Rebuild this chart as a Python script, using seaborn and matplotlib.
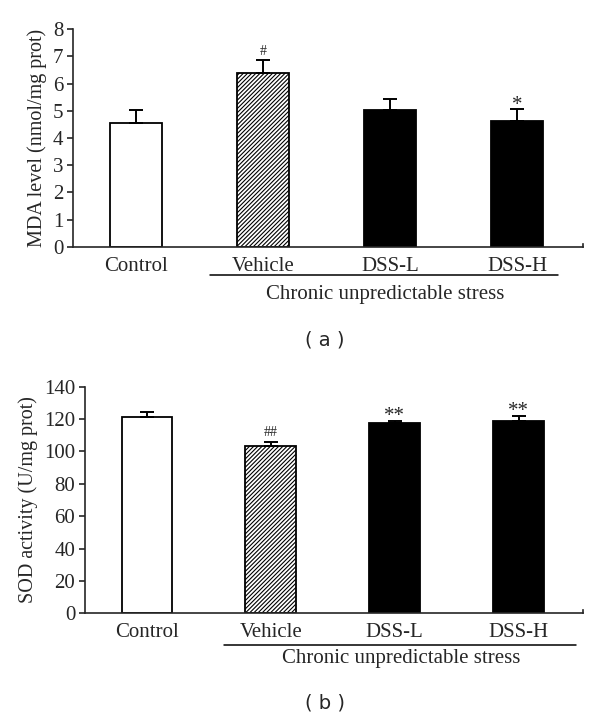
import numpy as np
import pandas as pd
import matplotlib
matplotlib.use('Agg')
import matplotlib.pyplot as plt
import matplotlib.transforms as mtransforms
import seaborn as sns

# Données
groups = ['Control', 'Vehicle', 'DSS-L', 'DSS-H']
mda_mean = [4.57, 6.38, 5.04, 4.61]
mda_err = [0.46, 0.47, 0.38, 0.45]
mda_marks = ['', '#', '', '*']
sod_mean = [121.4, 103.3, 117.3, 118.6]
sod_err = [3.1, 2.8, 1.7, 3.4]
sod_marks = ['', '##', '**', '**']
bar_colors = ['white', 'white', 'black', 'black']

sns.set_theme(style="ticks")
plt.rcParams['font.family'] = ['Liberation Serif', 'DejaVu Serif']
plt.rcParams['hatch.linewidth'] = 0.8

fig = plt.figure(figsize=(6, 7.2), dpi=100)
ax1 = fig.add_axes([0.1217, 0.657, 0.85, 0.3026])
ax2 = fig.add_axes([0.1417, 0.148, 0.83, 0.315])


def draw_panel(ax, means, errs, marks, ylabel, ylim, yticks, line_x, line_y, text_x, text_y):
    df = pd.DataFrame({'Group': groups, 'Value': means})
    sns.barplot(data=df, x='Group', y='Value', hue='Group', palette=bar_colors,
                edgecolor='black', linewidth=1.3, width=0.41, legend=False, ax=ax)
    ax.patches[1].set_hatch('////////')
    ax.errorbar(range(len(groups)), means, yerr=[np.zeros(len(errs)), errs],
                fmt='none', ecolor='black', elinewidth=1.4, capsize=5, capthick=1.4)
    for i, m in enumerate(marks):
        if m.startswith('*'):
            ax.annotate(m, (i, means[i] + errs[i]), xytext=(0, -4),
                        textcoords='offset points', ha='center', va='bottom', fontsize=15)
        elif m:
            ax.annotate(m, (i, means[i] + errs[i]), xytext=(0, 2),
                        textcoords='offset points', ha='center', va='bottom', fontsize=10)
    ax.set_ylim(*ylim)
    ax.set_yticks(yticks)
    ax.set_xlim(-0.5, 3.52)
    ax.set_xlabel('')
    ax.set_ylabel(ylabel, fontsize=14.5)
    ax.tick_params(axis='y', labelsize=15, length=4, width=1.2, direction='out', pad=3)
    ax.tick_params(axis='x', labelsize=15, length=0, pad=7)
    sns.despine(ax=ax, top=True, right=False)
    ax.spines['right'].set_bounds(ylim[0], ylim[0] + (ylim[1] - ylim[0]) * 0.015)
    for s in ['left', 'bottom', 'right']:
        ax.spines[s].set_linewidth(1.2)
    trans = mtransforms.blended_transform_factory(ax.transData, ax.transAxes)
    ax.plot(line_x, [line_y, line_y], color='black', lw=1.1, transform=trans, clip_on=False)
    ax.text(text_x, text_y, 'Chronic unpredictable stress', transform=trans,
            ha='center', va='center', fontsize=15)


draw_panel(ax1, mda_mean, mda_err, mda_marks, 'MDA level (nmol/mg prot)',
           (0, 8), range(0, 9), [0.58, 3.32], -0.128, 1.96, -0.216)
draw_panel(ax2, sod_mean, sod_err, sod_marks, 'SOD activity (U/mg prot)',
           (0, 140), range(0, 141, 20), [0.62, 3.46], -0.14, 2.05, -0.2)

fig.text(0.542, 0.528, '( a )', ha='center', va='center', fontsize=14, family='DejaVu Sans')
fig.text(0.542, 0.024, '( b )', ha='center', va='center', fontsize=14, family='DejaVu Sans')

plt.savefig('out.png', dpi=100, facecolor='white')
plt.close()
